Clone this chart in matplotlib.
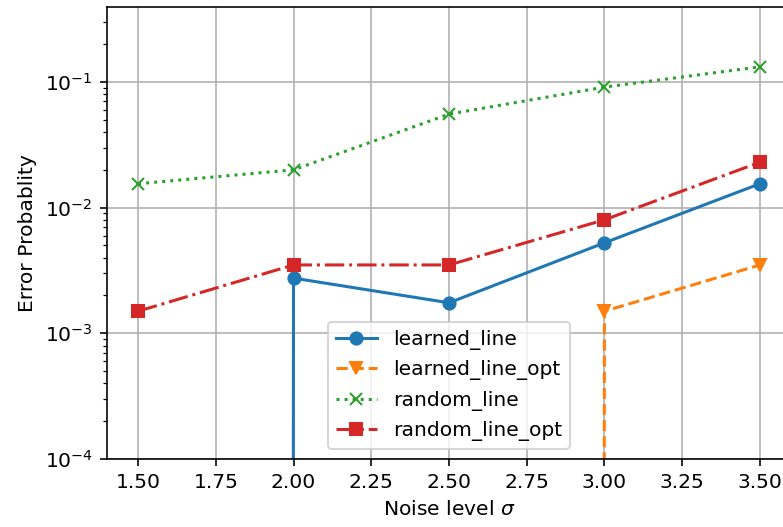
import numpy as np
import matplotlib
matplotlib.use("Agg")
import matplotlib.pyplot as plt

# Data (zeros fall below the log axis)
sigma = [1.5, 2.0, 2.5, 3.0, 3.5]
learned_line = [0.0, 2.75e-3, 1.75e-3, 5.25e-3, 1.55e-2]
learned_line_opt = [0.0, 0.0, 0.0, 1.5e-3, 3.5e-3]
random_line = [1.55e-2, 2.0e-2, 5.55e-2, 9.1e-2, 1.32e-1]
random_line_opt = [1.5e-3, 3.5e-3, 3.5e-3, 8.0e-3, 2.3e-2]

dpi = 146
fig = plt.figure(figsize=(783 / dpi, 527 / dpi), dpi=dpi)
# axes runs past the right edge, like the cropped original
ax = fig.add_axes([107 / 783, 68 / 527, 684 / 783, 452 / 527])

ax.plot(sigma, learned_line, "o-", label="learned_line")
ax.plot(sigma, learned_line_opt, "v--", label="learned_line_opt")
ax.plot(sigma, random_line, "x:", label="random_line")
ax.plot(sigma, random_line_opt, "s-.", label="random_line_opt")

ax.set_yscale("log", nonpositive="clip")
ax.set_ylim(1e-4, 0.395)
ax.set_xlim(1.4, 3.6)
ax.set_xticks([1.5, 1.75, 2.0, 2.25, 2.5, 2.75, 3.0, 3.25, 3.5])
ax.set_xlabel(r"Noise level $\sigma$")
ax.set_ylabel("Error Probablity")
ax.grid(True)
ax.legend(loc="lower center")

fig.savefig("out.png", dpi=dpi)
